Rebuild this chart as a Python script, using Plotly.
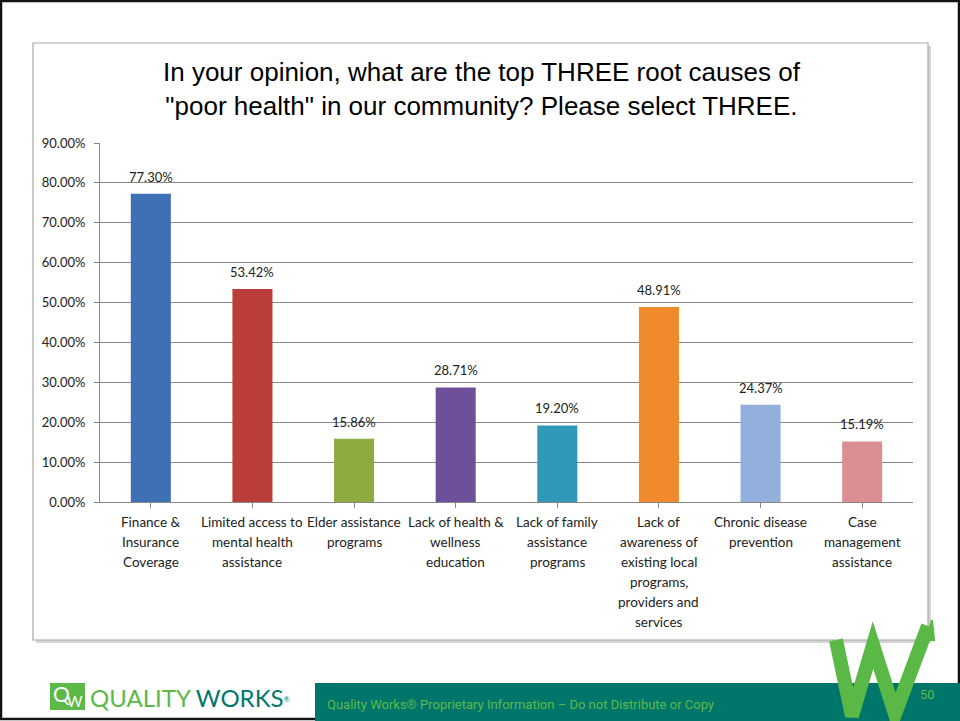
import plotly.graph_objects as go

# survey answers (share of respondents)
categories = [
    "Finance &<br>Insurance<br>Coverage",
    "Limited access to<br>mental health<br>assistance",
    "Elder assistance<br>programs",
    "Lack of health &<br>wellness<br>education",
    "Lack of family<br>assistance<br>programs",
    "Lack of<br>awareness of<br>existing local<br>programs,<br>providers and<br>services",
    "Chronic disease<br>prevention",
    "Case<br>management<br>assistance",
]
shares = [0.7730, 0.5342, 0.1586, 0.2871, 0.1920, 0.4891, 0.2437, 0.1519]
bar_colors = ["#3f70b6", "#bb3d3a", "#8dab3f", "#6e509a", "#3199b8",
              "#f08a2c", "#93b0dc", "#db8f93"]
y_ticks = [0.0, 0.1, 0.2, 0.3, 0.4, 0.5, 0.6, 0.7, 0.8, 0.9]

W, H = 960, 721


def px(x):
    return x / W


def py(y):
    return 1 - y / H


GRID = "#878787"
LABEL_FONT = dict(family="Lato, Open Sans, sans-serif", size=13, color="#222222")

fig = go.Figure(go.Bar(
    x=list(range(len(categories))),
    y=shares,
    marker=dict(color=bar_colors, line=dict(width=0)),
    hovertemplate="%{y:.2%}<extra></extra>",
))

for i, v in enumerate(shares):
    fig.add_annotation(
        x=i, y=v, xref="x", yref="y", text=f"{v:.2%}", showarrow=False,
        yanchor="bottom", yshift=7, font=LABEL_FONT,
    )

# category labels, one annotation per line so the line spacing matches (20px)
for i, cat in enumerate(categories):
    for k, line in enumerate(cat.split("<br>")):
        fig.add_annotation(
            x=i, y=py(522 + 20 * k), xref="x", yref="paper", text=line, showarrow=False,
            yanchor="middle", xanchor="center",
            font=dict(family="Lato, Open Sans, sans-serif", size=13.5, color="#222222"),
        )

shapes = [
    # slide border
    dict(type="rect", xref="paper", yref="paper", x0=px(1), x1=px(959), y0=py(719), y1=py(1),
         line=dict(color="#111111", width=2.5), layer="below"),
    # chart frame shadow + frame
    dict(type="rect", xref="paper", yref="paper", x0=px(36), x1=px(931), y0=py(643), y1=py(46),
         line=dict(width=0), fillcolor="#d4d4d4", layer="below"),
    dict(type="rect", xref="paper", yref="paper", x0=px(33), x1=px(928), y0=py(640), y1=py(43),
         line=dict(color="#a8a8a8", width=1.2), fillcolor="#ffffff", layer="below"),
    # footer band
    dict(type="rect", xref="paper", yref="paper", x0=px(315), x1=px(960), y0=0, y1=py(683),
         line=dict(width=0), fillcolor="#00756a", layer="below"),
    # logo square
    dict(type="rect", xref="paper", yref="paper", x0=px(50), x1=px(85), y0=py(710), y1=py(683),
         line=dict(width=0), fillcolor="#5cb847", layer="below"),
]

w_pts = [(836, 640), (852, 716), (873, 645), (895, 714), (928, 626)]
w_path = "M " + " L ".join(f"{px(x)},{py(y)}" for x, y in w_pts)
shapes.append(dict(type="path", xref="paper", yref="paper", path=w_path,
                   line=dict(color="#5ab946", width=14), layer="above"))
shapes.append(dict(type="path", xref="paper", yref="paper",
                   path=f"M {px(926)},{py(640)} L {px(932)},{py(620)} L {px(934)},{py(640)} Z",
                   line=dict(color="#5ab946", width=2), fillcolor="#5ab946", layer="above"))

fig.update_layout(shapes=shapes)

# title
fig.add_annotation(
    x=px(482), y=py(89), xref="paper", yref="paper", showarrow=False,
    text="In your opinion, what are the top THREE root causes of<br>"
         "\"poor health\" in our community? Please select THREE.",
    font=dict(family="Liberation Sans, Arial, sans-serif", size=26, color="#000000"),
    xanchor="center", yanchor="middle", align="center",
)

# footer texts
fig.add_annotation(
    x=px(88), y=py(697), xref="paper", yref="paper", showarrow=False,
    xanchor="left", yanchor="middle",
    text="<span style='color:#5cb847'>QUALITY</span> <span style='color:#00786c'>WORKS</span>"
         "<span style='color:#00786c;font-size:11px'><sup>®</sup></span>",
    font=dict(family="Lato, sans-serif", size=24),
)
fig.add_annotation(
    x=px(61), y=py(693), xref="paper", yref="paper", showarrow=False,
    xanchor="center", yanchor="middle",
    text="Q", font=dict(family="Lato, sans-serif", size=21, color="#ffffff"),
)
fig.add_annotation(
    x=px(75), y=py(701), xref="paper", yref="paper", showarrow=False,
    xanchor="center", yanchor="middle",
    text="W", font=dict(family="Lato, sans-serif", size=15, color="#ffffff"),
)
fig.add_annotation(
    x=px(325), y=py(704), xref="paper", yref="paper", showarrow=False,
    xanchor="left", yanchor="middle",
    text="Quality Works® Proprietary Information – Do not Distribute or Copy",
    font=dict(family="Liberation Sans Narrow, Roboto, sans-serif", size=13, color="#5dba4a"),
)
fig.add_annotation(
    x=px(937), y=py(704), xref="paper", yref="paper", showarrow=False,
    text="50", font=dict(family="Liberation Sans Narrow, Roboto, sans-serif", size=13, color="#5dba4a"),
)

fig.update_layout(
    width=W, height=H,
    margin=dict(l=0, r=0, t=0, b=0, pad=0),
    paper_bgcolor="#ffffff",
    plot_bgcolor="rgba(0,0,0,0)",
    bargap=0.606,
    showlegend=False,
    xaxis=dict(
        domain=[px(100), px(913)],
        tickmode="array", tickvals=list(range(len(categories))),
        showticklabels=False,
        range=[-0.5, len(categories) - 0.5],
        showline=True, linecolor=GRID, linewidth=1,
        ticks="outside", tickson="boundaries", ticklen=5, tickcolor=GRID,
        showgrid=False,
        automargin=False, fixedrange=True,
    ),
    yaxis=dict(
        domain=[py(502), py(143)],
        range=[0, 0.9], tickvals=y_ticks, tickformat=".2%",
        showline=True, linecolor=GRID, linewidth=1,
        ticks="outside", ticklen=5, tickcolor=GRID,
        showgrid=True, gridcolor=GRID, gridwidth=1,
        zeroline=False, ticklabelstandoff=6,
        tickfont=LABEL_FONT,
        automargin=False, fixedrange=True,
    ),
)

fig.write_html(
    "out.html",
    config={"displayModeBar": False},
    post_script="document.body.style.margin='0';document.body.style.overflow='hidden';",
)
